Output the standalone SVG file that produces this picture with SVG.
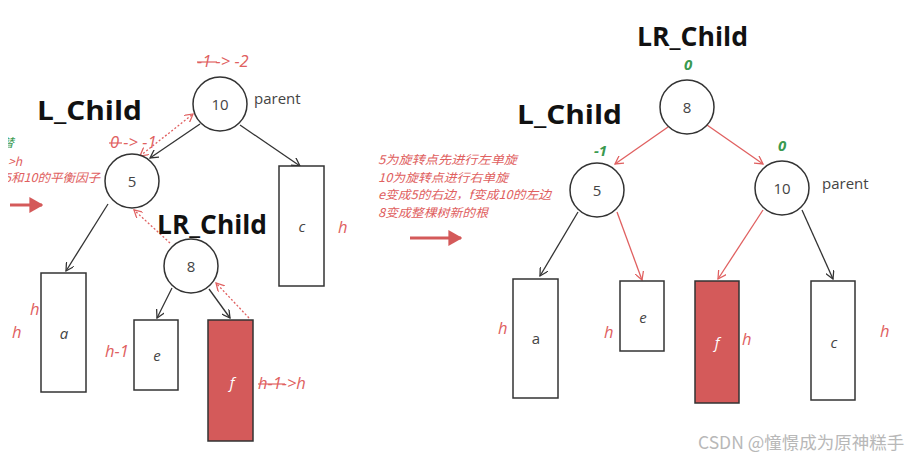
<svg xmlns="http://www.w3.org/2000/svg" width="909" height="458" viewBox="0 0 909 458">
<defs>
<style>
.nd{fill:#fff;stroke:#333;stroke-width:1.5}
.bx{fill:#fff;stroke:#333;stroke-width:1.5}
.bxr{fill:#d45a5a;stroke:#333;stroke-width:1.5}
.nt{font-family:"Open Sans","DejaVu Sans",sans-serif;font-size:15px;fill:#444;text-anchor:middle}
.lb{font-family:"Open Sans","DejaVu Sans",sans-serif;font-size:15px;fill:#444;font-style:italic;text-anchor:middle}
.pa{font-family:"Open Sans","DejaVu Sans",sans-serif;font-size:15px;fill:#444}
.big{font-family:"Open Sans","DejaVu Sans",sans-serif;font-size:27px;font-weight:bold;fill:#111}
.rd{font-family:"Open Sans","DejaVu Sans",sans-serif;font-size:16.5px;fill:#e06060;font-style:italic}
.gr{font-family:"Open Sans","DejaVu Sans",sans-serif;font-size:15px;fill:#3a9a50;font-style:italic;font-weight:bold}
.cn{font-family:"Noto Sans CJK SC",sans-serif;font-size:12px;fill:#e06060;font-style:italic}
.bl{stroke:#333;stroke-width:1.3;fill:none}
.rl{stroke:#e06060;stroke-width:1.3;fill:none}
.rdot{stroke:#e06060;stroke-width:1.3;fill:none;stroke-dasharray:2 2}
.st{stroke:#e06060;stroke-width:1.2}
</style>
<clipPath id="edge"><rect x="8" y="0" width="200" height="458"/></clipPath>
<marker id="ab" viewBox="0 0 10 10" refX="9" refY="5" markerWidth="9" markerHeight="9" markerUnits="userSpaceOnUse" orient="auto"><path d="M0,0 L9,5 L0,10" fill="none" stroke="#333" stroke-width="1.4"/></marker>
<marker id="ar" viewBox="0 0 10 10" refX="9" refY="5" markerWidth="9" markerHeight="9" markerUnits="userSpaceOnUse" orient="auto"><path d="M0,0 L9,5 L0,10" fill="none" stroke="#e06060" stroke-width="1.4"/></marker>
<marker id="arS" viewBox="0 0 10 10" refX="9" refY="5" markerWidth="9" markerHeight="9" markerUnits="userSpaceOnUse" orient="auto-start-reverse"><path d="M0,0 L9,5 L0,10" fill="none" stroke="#e06060" stroke-width="1.4"/></marker>
<marker id="big" viewBox="0 0 10 10" refX="9" refY="5" markerWidth="14" markerHeight="16" markerUnits="userSpaceOnUse" orient="auto" preserveAspectRatio="none"><path d="M0,0 L10,5 L0,10 Z" fill="#d45a5a"/></marker>
</defs>

<g id="connectors">
<!-- left -->
<line class="bl" x1="200" y1="124" x2="150" y2="158" marker-end="url(#ab)"/>
<line class="bl" x1="240" y1="125" x2="300" y2="166" marker-end="url(#ab)"/>
<line class="bl" x1="108" y1="204" x2="66" y2="271" marker-end="url(#ab)"/>
<line class="bl" x1="172" y1="288" x2="157" y2="318" marker-end="url(#ab)"/>
<line class="bl" x1="209" y1="289" x2="230" y2="318" marker-end="url(#ab)"/>
<line class="rdot" x1="140" y1="156" x2="193" y2="114" marker-start="url(#arS)" marker-end="url(#ar)"/>
<line class="rdot" x1="170" y1="243" x2="134" y2="210" marker-end="url(#ar)"/>
<line class="rdot" x1="249" y1="318" x2="216" y2="283" marker-end="url(#ar)"/>
<line x1="10" y1="205" x2="42" y2="205" stroke="#d45a5a" stroke-width="3" marker-end="url(#big)"/>
<!-- right -->
<line class="rl" x1="668" y1="127" x2="615" y2="164" marker-end="url(#ar)"/>
<line class="rl" x1="707" y1="125" x2="763" y2="164" marker-end="url(#ar)"/>
<line class="bl" x1="578" y1="212" x2="540" y2="276" marker-end="url(#ab)"/>
<line class="rl" x1="617" y1="212" x2="642" y2="280" marker-end="url(#ar)"/>
<line class="rl" x1="763" y1="210" x2="718" y2="279" marker-end="url(#ar)"/>
<line class="bl" x1="802" y1="210" x2="833" y2="279" marker-end="url(#ab)"/>
<line x1="410" y1="238" x2="461" y2="238" stroke="#d45a5a" stroke-width="3" marker-end="url(#big)"/>
</g>

<!-- left tree -->
<g id="n10L"><circle class="nd" cx="220" cy="104" r="27"/><text class="nt" x="220" y="110">10</text><text class="pa" x="254" y="104">parent</text>
<text class="rd" x="197" y="67">-1 -&gt; -2</text><line class="st" x1="197" y1="62" x2="217" y2="62"/></g>
<g id="n5L"><circle class="nd" cx="132" cy="181" r="27"/><text class="nt" x="132" y="187">5</text>
<text class="rd" x="110" y="148">0 -&gt; -1</text><line class="st" x1="109" y1="143" x2="122" y2="143"/></g>
<g id="n8L"><circle class="nd" cx="191" cy="266" r="27"/><text class="nt" x="191" y="272">8</text></g>
<g id="aL"><rect class="bx" x="41" y="273" width="45" height="119"/><text class="lb" x="64" y="339">a</text><text class="rd" x="30" y="315">h</text><text class="rd" x="12" y="338">h</text></g>
<g id="cL"><rect class="bx" x="279" y="166" width="45" height="120"/><text class="lb" x="302" y="232">c</text><text class="rd" x="338" y="233">h</text></g>
<g id="eL"><rect class="bx" x="134" y="320" width="44" height="70"/><text class="lb" x="157" y="361">e</text><text class="rd" x="105" y="357">h-1</text></g>
<g id="fL"><rect class="bxr" x="208" y="320" width="45" height="121"/><text class="lb" x="232" y="388" style="fill:#fff">f</text>
<text class="rd" x="258" y="389">h-1-&gt;h</text><line class="st" x1="258" y1="384" x2="285" y2="384"/></g>
<text class="big" x="37" y="120" textLength="105" lengthAdjust="spacingAndGlyphs">L_Child</text>
<text class="big" x="157" y="234" textLength="110" lengthAdjust="spacingAndGlyphs">LR_Child</text>
<g clip-path="url(#edge)">
<text x="2" y="147" style="font-family:'Noto Sans CJK SC',sans-serif;font-size:12px;fill:#3a9a50;font-style:italic">替</text>
<text class="cn" x="8" y="166">&gt;h</text>
<text class="cn" x="4" y="182" textLength="96" lengthAdjust="spacingAndGlyphs">5和10的平衡因子</text>
</g>

<!-- right tree -->
<g id="n8R"><circle class="nd" cx="687" cy="107" r="27"/><text class="nt" x="687" y="113">8</text><text class="gr" x="684" y="70">0</text></g>
<g id="n5R"><circle class="nd" cx="597" cy="190" r="27"/><text class="nt" x="597" y="196">5</text><text class="gr" x="594" y="156">-1</text></g>
<g id="n10R"><circle class="nd" cx="782" cy="188" r="27"/><text class="nt" x="782" y="194">10</text><text class="gr" x="778" y="151">0</text><text class="pa" x="822" y="189">parent</text></g>
<g id="aR"><rect class="bx" x="513" y="279" width="45" height="119"/><text class="nt" x="536" y="344">a</text><text class="rd" x="498" y="334">h</text></g>
<g id="eR"><rect class="bx" x="620" y="281" width="44" height="70"/><text class="lb" x="643" y="323">e</text><text class="rd" x="604" y="338">h</text></g>
<g id="fR"><rect class="bxr" x="695" y="281" width="44" height="122"/><text class="lb" x="717" y="348" style="fill:#fff">f</text><text class="rd" x="742" y="345">h</text></g>
<g id="cR"><rect class="bx" x="811" y="281" width="44" height="119"/><text class="lb" x="834" y="348">c</text><text class="rd" x="880" y="337">h</text></g>
<text class="big" x="637" y="46" textLength="111" lengthAdjust="spacingAndGlyphs">LR_Child</text>
<text class="big" x="517" y="124" textLength="105" lengthAdjust="spacingAndGlyphs">L_Child</text>
<text class="cn" x="378" y="164" textLength="139" lengthAdjust="spacingAndGlyphs">5为旋转点先进行左单旋</text>
<text class="cn" x="378" y="181.5" textLength="130" lengthAdjust="spacingAndGlyphs">10为旋转点进行右单旋</text>
<text class="cn" x="378" y="199" textLength="173" lengthAdjust="spacingAndGlyphs">e变成5的右边，f变成10的左边</text>
<text class="cn" x="378" y="216.5" textLength="110" lengthAdjust="spacingAndGlyphs">8变成整棵树新的根</text>
<text x="698" y="449" style="font-family:'Noto Sans CJK SC',sans-serif;font-size:17.5px;fill:#b8b8b8">CSDN @憧憬成为原神糕手</text>
</svg>
